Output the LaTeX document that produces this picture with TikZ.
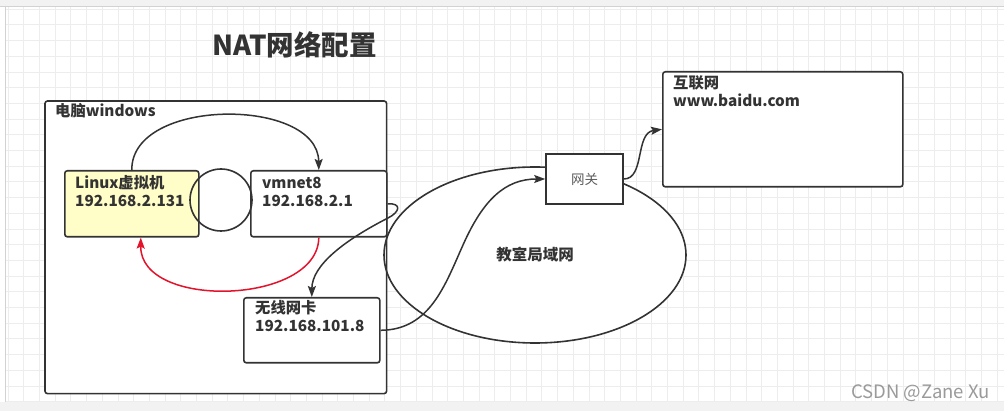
\documentclass[tikz,border=0pt]{standalone}
\usepackage{fontspec}
\setmainfont{Noto Sans CJK SC}
\usetikzlibrary{arrows.meta,shapes.geometric}
\definecolor{ink}{HTML}{333333}
\definecolor{gridc}{HTML}{EDEDED}
\definecolor{vmfill}{HTML}{FFFDC8}
\definecolor{redc}{HTML}{E3132C}
\definecolor{wm}{HTML}{9A9A9A}
\definecolor{barc}{HTML}{F2F2F2}
\tikzset{
  box/.style={draw=ink, line width=1.6pt, fill=white, rounded corners=2.5pt, inner sep=0pt, anchor=north west},
  lbl/.style={inner sep=0pt, text=ink, font=\bfseries\fontsize{15.3}{18}\selectfont, align=left, anchor=base west},
  conn/.style={draw=ink, line width=1.5pt, -{Stealth[length=11pt,width=8pt,inset=2pt]}},
  redconn/.style={conn, draw=redc},
}
\begin{document}
\begin{tikzpicture}[x=1pt,y=-1pt]
\useasboundingbox (0,0) rectangle (1004,411);
\fill[white] (0,0) rectangle (1004,411);
% grid
\foreach \i in {0,...,63} \draw[gridc, line width=0.7pt] ({8+15.7*\i},6) -- ({8+15.7*\i},402);
\foreach \j in {0,...,25} \draw[gridc, line width=0.7pt] (5,{9.1+15.7*\j}) -- (1004,{9.1+15.7*\j});
\fill[barc] (0,0) rectangle (1004,6);
\draw[gray!35] (0,6) -- (1004,6);
\fill[barc] (0,402) rectangle (1004,411);
\draw[gray!35] (5,6) -- (5,402);

% title
\node[font=\bfseries\fontsize{27.5}{30}\selectfont, text=ink, inner sep=0pt] (title) at (294.5,45) {NAT网络配置};

% computer frame (fill), LAN ellipse, frame border
\node[box, draw=none, minimum width=340pt, minimum height=291pt] (pc) at (45,101) {};
\node[ellipse, draw=ink, line width=1.6pt, fill=white, minimum width=302pt, minimum height=176pt, inner sep=0pt,
      font=\bfseries\fontsize{15.5}{18}\selectfont, text=ink] (lan) at (535,255) {教室局域网};
\draw[ink, line width=1.6pt, rounded corners=2.5pt] (pc.north west) rectangle (pc.south east);
\node[lbl] (pcT) at ([shift={(10,16)}]pc.north west) {电脑windows};

% boxes
\node[box, fill=vmfill, minimum width=134pt, minimum height=66pt] (linux) at (64,170) {};
\node[lbl] (linuxT) at ([shift={(11,37)}]linux.north west) {Linux虚拟机\\192.168.2.131};
\node[box, minimum width=136pt, minimum height=66pt] (vmnet) at (250,170) {};
\node[lbl] (vmnetT) at ([shift={(12,37)}]vmnet.north west) {vmnet8\\192.168.2.1};
\node[circle, draw=ink, line width=1.6pt, minimum size=62pt, inner sep=0pt] (ring) at (221,200) {};
\node[box, minimum width=136pt, minimum height=65pt] (wifi) at (243,297) {};
\node[lbl] (wifiT) at ([shift={(12,35)}]wifi.north west) {无线网卡\\192.168.101.8};
\node[draw=ink, line width=1.6pt, fill=white, minimum width=77pt, minimum height=50pt, inner sep=0pt,
      font=\fontsize{13.5}{16}\selectfont, text=ink!80] (gw) at (584.5,179) {网关};
\node[box, minimum width=240pt, minimum height=115pt] (net) at (662,71) {};
\node[lbl] (netT) at ([shift={(11,36)}]net.north west) {互联网\\www.baidu.com};

% connectors
\draw[conn] (linux.north) .. controls (131,97) and (318,97) .. (vmnet.north);
\draw[redconn] (vmnet.south) .. controls (318,305) and (140,310) .. ([xshift=9pt]linux.south);
\draw[conn] (vmnet.east) .. controls (402,203) and (400,212) .. (388,218)
            .. controls (345,240) and (312,265) .. (wifi.north);
\draw[conn] (wifi.east) .. controls (430,330) and (445,285) .. (463,245)
            .. controls (483,200) and (505,179) .. (gw.west);
\draw[conn] (gw.east) .. controls (645,179) and (635,133) .. (net.west);

% watermark
\node[text=wm, font=\fontsize{18.5}{20}\selectfont, inner sep=0pt, anchor=east] (wmT) at (990,393) {CSDN @Zane Xu};
\end{tikzpicture}
\end{document}
